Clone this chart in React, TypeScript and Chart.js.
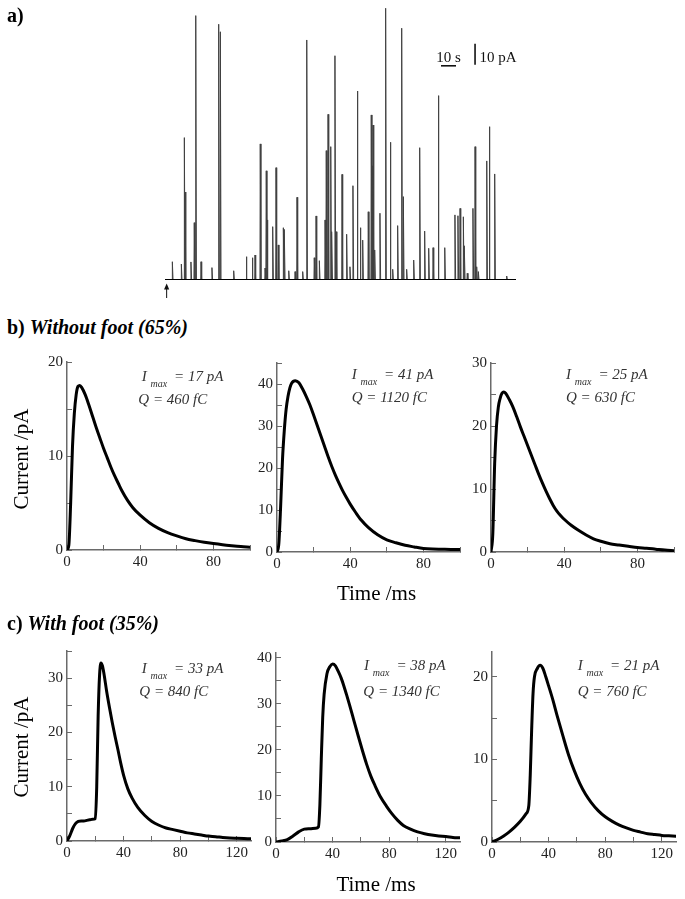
import React, { useEffect, useRef } from 'react';
import { Chart, registerables } from 'chart.js';

Chart.register(...registerables);

const SERIF = '"Liberation Serif", "Times New Roman", Times, serif';

// ---------- Panel a: amperometric trace ----------
const traceDurationS = 234;
const traceMaxPA = 130;
const stimulusTimeS = 1.1;
const scaleBarSeconds = 10;
const scaleBarPA = 10;
const spikeTimesS = [4.9, 10.9, 12.9, 13.4, 17.3, 19.5, 20.5, 24.0, 31.3, 35.8, 36.9, 45.8, 54.2, 58.2, 60.0, 63.5, 66.7, 67.5, 68.2, 71.8, 74.0, 75.5, 78.9, 79.6, 82.5, 86.7, 88.0, 91.8, 94.5, 99.5, 100.7, 102.9, 106.7, 107.5, 108.7, 110.5, 111.2, 113.3, 114.1, 118.0, 121.1, 123.3, 125.3, 128.2, 130.2, 131.8, 135.5, 137.5, 138.2, 138.7, 139.8, 143.3, 147.1, 150.2, 151.8, 155.1, 157.8, 158.9, 161.1, 165.8, 169.8, 173.1, 175.8, 178.7, 182.2, 186.5, 193.3, 195.3, 196.7, 198.9, 199.6, 201.5, 205.3, 206.7, 207.8, 208.9, 214.5, 216.2, 219.8, 227.8];
const spikeAmpsPA = [8.7, 7.6, 67.8, 41.9, 8.6, 27.3, 125.9, 8.7, 5.9, 121.8, 118.2, 4.4, 11.1, 10.6, 11.9, 64.8, 5.7, 52.0, 28.6, 25.4, 53.5, 16.7, 24.9, 24.1, 4.4, 4.0, 39.4, 4.0, 114.3, 10.6, 30.5, 9.2, 28.6, 61.6, 78.9, 63.5, 23.0, 106.8, 23.0, 50.3, 21.8, 6.3, 44.9, 90.0, 24.9, 19.0, 32.5, 78.6, 54.4, 73.8, 14.3, 31.8, 129.4, 65.6, 5.1, 25.9, 119.9, 39.7, 5.1, 9.5, 63.0, 23.3, 15.1, 15.4, 87.8, 15.4, 31.0, 30.6, 34.1, 30.1, 16.3, 3.2, 34.1, 63.5, 6.3, 4.0, 56.7, 73.0, 50.5, 1.9];

// ---------- Panel b: spikes without foot ----------
const b1TimeMs = [0, 1, 2, 3, 4, 5, 6, 7, 8, 10, 12, 14, 16, 18, 20, 22, 24, 26, 28, 30, 33, 36, 40, 45, 50, 55, 60, 65, 70, 75, 80, 85, 90, 95, 100];
const b1CurrentPA = [0, 0.5, 5, 11, 14.5, 16.5, 17.4, 17.5, 17.3, 16.5, 15.4, 14.2, 13.0, 11.9, 10.8, 9.8, 8.8, 7.9, 7.1, 6.3, 5.3, 4.5, 3.7, 2.9, 2.3, 1.85, 1.5, 1.2, 1.0, 0.82, 0.68, 0.56, 0.46, 0.37, 0.3];
const b2TimeMs = [0, 1, 2, 3, 4, 5, 6, 7, 8, 10, 12, 14, 16, 18, 20, 22, 24, 26, 28, 30, 32, 34, 36, 38, 40, 43, 46, 50, 55, 60, 65, 70, 75, 80, 85, 90, 95, 100];
const b2CurrentPA = [0, 2, 11, 22, 29, 34, 37, 39, 40.2, 40.8, 40.3, 38.8, 37, 35, 32.6, 30.1, 27.6, 25.1, 22.6, 20.3, 18.2, 16.3, 14.5, 12.9, 11.4, 9.4, 7.6, 5.8, 4.1, 2.9, 2.2, 1.6, 1.2, 0.85, 0.7, 0.65, 0.6, 0.6];
const b3TimeMs = [0, 1, 2, 3, 4, 5, 6, 7, 8, 10, 12, 14, 16, 18, 20, 22, 24, 26, 28, 30, 32, 34, 36, 38, 40, 44, 48, 52, 56, 60, 65, 70, 75, 80, 85, 90, 95, 100];
const b3CurrentPA = [0, 3, 14, 20, 23, 24.4, 25.2, 25.4, 25.2, 24.2, 23, 21.5, 19.9, 18.4, 16.9, 15.4, 13.9, 12.4, 11, 9.7, 8.5, 7.4, 6.5, 5.8, 5.2, 4.2, 3.4, 2.7, 2.1, 1.7, 1.3, 1.1, 0.9, 0.7, 0.6, 0.45, 0.3, 0.2];

// ---------- Panel c: spikes with foot ----------
const c1TimeMs = [0, 2, 4, 6, 8, 10, 12, 14, 16, 18, 20, 21, 22, 23, 24, 25, 26, 28, 30, 32, 34, 36, 38, 40, 43, 46, 50, 55, 60, 65, 70, 75, 80, 85, 90, 95, 100, 105, 110, 115, 120, 125, 130];
const c1CurrentPA = [0, 1, 2.3, 3.2, 3.6, 3.7, 3.7, 3.8, 3.9, 4.0, 4.1, 10, 23, 30.5, 32.8, 32.3, 31, 27.6, 24.6, 21.8, 19.2, 16.8, 14.3, 12.1, 9.6, 7.9, 6.2, 4.7, 3.6, 2.9, 2.4, 2.1, 1.8, 1.5, 1.3, 1.1, 0.9, 0.8, 0.65, 0.55, 0.5, 0.45, 0.4];
const c2TimeMs = [0, 4, 8, 12, 16, 20, 24, 28, 30, 31, 32, 33, 34, 36, 38, 40, 42, 44, 46, 48, 50, 52, 55, 58, 61, 64, 67, 70, 74, 78, 82, 86, 90, 95, 100, 105, 110, 115, 120, 125, 130];
const c2CurrentPA = [0, 0.2, 0.5, 1.3, 2.2, 2.8, 2.9, 3.0, 3.3, 8, 18, 27, 32, 36.5, 38, 38.6, 38.2, 37, 35.6, 33.8, 31.8, 29.7, 26.4, 23.1, 19.9, 16.9, 14.3, 12.2, 9.7, 7.8, 6.1, 4.7, 3.6, 2.8, 2.2, 1.8, 1.5, 1.3, 1.2, 1.0, 0.9];
const c3TimeMs = [0, 4, 8, 12, 16, 20, 24, 26, 27, 28, 29, 30, 32, 34, 36, 38, 40, 43, 46, 50, 54, 58, 62, 66, 70, 75, 80, 85, 90, 95, 100, 105, 110, 115, 120, 125, 130];
const c3CurrentPA = [0, 0.3, 0.7, 1.2, 1.8, 2.5, 3.4, 4.4, 8, 13.5, 18, 20, 21, 21.4, 21, 20.0, 18.9, 17.2, 15.3, 12.9, 10.6, 8.7, 7.1, 5.8, 4.8, 3.8, 3.05, 2.5, 2.05, 1.7, 1.4, 1.2, 1.0, 0.9, 0.8, 0.75, 0.7];

// annotation values (pA, fC)
const imaxPA = [17, 41, 25, 33, 38, 21];
const chargeFC = [460, 1120, 630, 840, 1340, 760];

// ---------- layout ----------
const AXIS_W = 40;
const AXIS_H = 28;
const PAD_T = 10;
const PAD_R = 16;

type TraceSpec = {
  left: number; top: number; width: number; height: number;
  xMax: number; yMax: number; xLabelStep: number; yLabelStep: number;
  times: number[]; values: number[];
};

const traceSpecs: TraceSpec[] = [
  { left: 66.7, top: 354, width: 182.5, height: 196, xMax: 100, yMax: 20, xLabelStep: 40, yLabelStep: 10, times: b1TimeMs, values: b1CurrentPA },
  { left: 277, top: 355, width: 182.5, height: 197, xMax: 100, yMax: 45, xLabelStep: 40, yLabelStep: 10, times: b2TimeMs, values: b2CurrentPA },
  { left: 491, top: 355, width: 182.5, height: 197, xMax: 100, yMax: 30, xLabelStep: 40, yLabelStep: 10, times: b3TimeMs, values: b3CurrentPA },
  { left: 66.7, top: 642.7, width: 184.3, height: 198, xMax: 130, yMax: 35, xLabelStep: 40, yLabelStep: 10, times: c1TimeMs, values: c1CurrentPA },
  { left: 276, top: 645, width: 184.3, height: 196.7, xMax: 130, yMax: 41, xLabelStep: 40, yLabelStep: 10, times: c2TimeMs, values: c2CurrentPA },
  { left: 492.3, top: 644, width: 183.8, height: 198.3, xMax: 130, yMax: 23, xLabelStep: 40, yLabelStep: 10, times: c3TimeMs, values: c3CurrentPA },
];

const annotationPos = [
  { ix: 141.7, iy: 381.6, qx: 138.3, qy: 405 },
  { ix: 351.7, iy: 379.2, qx: 351.7, qy: 403 },
  { ix: 566, iy: 379.2, qx: 566, qy: 403 },
  { ix: 141.7, iy: 673.2, qx: 139.3, qy: 696.6 },
  { ix: 364, iy: 670.6, qx: 363.3, qy: 696.6 },
  { ix: 577.7, iy: 670.6, qx: 577.7, qy: 696.6 },
];

const AXIS_COLOR = '#6a6a6a';

function traceConfig(s: TraceSpec): any {
  const tickFont = { family: SERIF, size: 15 };
  return {
    type: 'line',
    data: {
      datasets: [{
        data: s.times.map((t, i) => ({ x: t, y: s.values[i] })),
        borderColor: '#000',
        borderWidth: 3,
        pointRadius: 0,
        cubicInterpolationMode: 'monotone',
        fill: false,
        borderJoinStyle: 'round',
        borderCapStyle: 'round',
      }],
    },
    options: {
      animation: false,
      responsive: false,
      events: [],
      layout: { padding: { left: 0, top: PAD_T, right: PAD_R, bottom: 0 } },
      plugins: { legend: { display: false }, tooltip: { enabled: false } },
      scales: {
        x: {
          type: 'linear', min: 0, max: s.xMax,
          afterFit: (sc: any) => { sc.height = AXIS_H; },
          grid: { drawOnChartArea: false, tickLength: -5, color: AXIS_COLOR, lineWidth: 1 },
          border: { color: AXIS_COLOR, width: 1.5 },
          ticks: {
            stepSize: 20, includeBounds: false, autoSkip: false, maxRotation: 0,
            padding: 8.5, color: '#222', font: tickFont,
            callback: (v: number) => (v % s.xLabelStep === 0 ? String(v) : ''),
          },
        },
        y: {
          type: 'linear', min: 0, max: s.yMax,
          afterFit: (sc: any) => { sc.width = AXIS_W; },
          grid: { drawOnChartArea: false, tickLength: -5, color: AXIS_COLOR, lineWidth: 1 },
          border: { color: AXIS_COLOR, width: 1.5 },
          ticks: {
            stepSize: 5, includeBounds: false, autoSkip: false,
            padding: 9, color: '#222', font: tickFont,
            callback: (v: number) => (v % s.yLabelStep === 0 ? String(v) : ''),
          },
        },
      },
    },
  };
}

// scale bar positions (in data units of panel a)
const SB_H_T = 184;
const SB_H_Y = 102;
const SB_V_T = 206.7;
const SB_V_Y = 102.5;

const scaleBarPlugin = {
  id: 'scaleBar',
  afterDatasetsDraw(chart: any) {
    const { ctx, scales } = chart;
    const x = scales.x;
    const y = scales.y;
    ctx.save();
    ctx.strokeStyle = '#111';
    ctx.fillStyle = '#111';
    ctx.lineWidth = 1.6;
    const hx0 = x.getPixelForValue(SB_H_T);
    const hx1 = x.getPixelForValue(SB_H_T + scaleBarSeconds);
    const hy = y.getPixelForValue(SB_H_Y);
    ctx.beginPath(); ctx.moveTo(hx0, hy); ctx.lineTo(hx1, hy); ctx.stroke();
    ctx.font = `15px ${SERIF}`;
    ctx.textBaseline = 'alphabetic';
    ctx.textAlign = 'center';
    ctx.fillText(`${scaleBarSeconds} s`, (hx0 + hx1) / 2, hy - 4.2);
    const vx = x.getPixelForValue(SB_V_T);
    const vy0 = y.getPixelForValue(SB_V_Y);
    const vy1 = y.getPixelForValue(SB_V_Y + scaleBarPA);
    ctx.beginPath(); ctx.moveTo(vx, vy0); ctx.lineTo(vx, vy1); ctx.stroke();
    ctx.textAlign = 'left';
    ctx.fillText(`${scaleBarPA} pA`, vx + 4.5, hy - 4.2);
    // stimulus arrow
    const ax = x.getPixelForValue(stimulusTimeS);
    const ay = y.getPixelForValue(0);
    ctx.lineWidth = 1;
    ctx.beginPath(); ctx.moveTo(ax, ay + 6); ctx.lineTo(ax, ay + 18); ctx.stroke();
    ctx.beginPath(); ctx.moveTo(ax, ay + 3.5); ctx.lineTo(ax - 2.6, ay + 9.5); ctx.lineTo(ax + 2.6, ay + 9.5); ctx.closePath(); ctx.fill();
    ctx.restore();
  },
};

function traceAConfig(): any {
  const spikePoints: { x: number; y: number }[] = [];
  spikeTimesS.forEach((t, i) => {
    spikePoints.push({ x: t - 0.2, y: 0 });
    spikePoints.push({ x: t, y: spikeAmpsPA[i] });
    spikePoints.push({ x: t + 0.45, y: 0 });
  });
  return {
    type: 'line',
    data: {
      datasets: [
        { data: [{ x: 0, y: 0 }, { x: traceDurationS, y: 0 }], borderColor: '#000', borderWidth: 2, pointRadius: 0 },
        { data: spikePoints, borderColor: '#404040', borderWidth: 1, pointRadius: 0, tension: 0 },
      ],
    },
    options: {
      animation: false,
      responsive: false,
      events: [],
      layout: { padding: { left: 165, right: 685 - 516, top: 7, bottom: 20 } },
      plugins: { legend: { display: false }, tooltip: { enabled: false } },
      scales: {
        x: { type: 'linear', display: false, min: 0, max: traceDurationS },
        y: { type: 'linear', display: false, min: 0, max: traceMaxPA },
      },
    },
    plugins: [scaleBarPlugin],
  };
}

function Txt(props: { x: number; baseline: number; size: number; anchor?: 'left' | 'center'; style?: any; children: any }) {
  const { x, baseline, size, anchor = 'left', style, children } = props;
  return (
    <div
      style={{
        position: 'absolute',
        left: x,
        top: baseline - 0.8375 * size,
        fontSize: size,
        lineHeight: 1,
        whiteSpace: 'nowrap',
        fontFamily: SERIF,
        transform: anchor === 'center' ? 'translateX(-50%)' : undefined,
        ...style,
      }}
    >
      {children}
    </div>
  );
}

function VText(props: { cx: number; cy: number; size: number; children: any }) {
  return (
    <div
      style={{
        position: 'absolute',
        left: props.cx,
        top: props.cy,
        fontSize: props.size,
        lineHeight: 1,
        whiteSpace: 'nowrap',
        fontFamily: SERIF,
        transform: 'translate(-50%, -50%) rotate(-90deg)',
      }}
    >
      {props.children}
    </div>
  );
}

export default function App() {
  const aRef = useRef<HTMLCanvasElement | null>(null);
  const refs = useRef<(HTMLCanvasElement | null)[]>([]);

  useEffect(() => {
    const charts: Chart[] = [];
    if (aRef.current) charts.push(new Chart(aRef.current, traceAConfig()));
    traceSpecs.forEach((s, i) => {
      const c = refs.current[i];
      if (c) charts.push(new Chart(c, traceConfig(s)));
    });
    return () => charts.forEach((c) => c.destroy());
  }, []);

  return (
    <div style={{ position: 'absolute', left: 0, top: 0, width: 685, height: 899, background: '#fff', overflow: 'hidden', fontFamily: SERIF, color: '#000' }}>
      <canvas ref={aRef} width={685} height={300} style={{ position: 'absolute', left: 0, top: 0, width: 685, height: 300 }} />
      {traceSpecs.map((s, i) => {
        const w = Math.round(AXIS_W + s.width + PAD_R);
        const h = Math.round(PAD_T + s.height + AXIS_H);
        return (
          <canvas
            key={i}
            ref={(el) => { refs.current[i] = el; }}
            width={w}
            height={h}
            style={{ position: 'absolute', left: s.left - AXIS_W, top: s.top - PAD_T, width: w, height: h }}
          />
        );
      })}

      <Txt x={7} baseline={21.5} size={20} style={{ fontWeight: 'bold' }}>a)</Txt>
      <Txt x={7} baseline={334} size={20} style={{ fontWeight: 'bold' }}>
        b) <i>Without foot (65%)</i>
      </Txt>
      <Txt x={7} baseline={630} size={20} style={{ fontWeight: 'bold' }}>
        c) <i>With foot (35%)</i>
      </Txt>

      <VText cx={21} cy={459} size={21}>Current /pA</VText>
      <VText cx={21} cy={746.7} size={21}>Current /pA</VText>
      <Txt x={376.5} baseline={600.5} size={21} anchor="center">Time /ms</Txt>
      <Txt x={376} baseline={891.5} size={21} anchor="center">Time /ms</Txt>

      {annotationPos.map((p, i) => (
        <React.Fragment key={i}>
          <Txt x={p.ix} baseline={p.iy} size={15} style={{ fontStyle: 'italic', color: '#333' }}>
            I <span style={{ fontSize: 10, position: 'relative', top: 6 }}>max</span>
            <span style={{ marginLeft: 7 }}>= {imaxPA[i]} pA</span>
          </Txt>
          <Txt x={p.qx} baseline={p.qy} size={15} style={{ fontStyle: 'italic', color: '#333' }}>
            Q = {chargeFC[i]} fC
          </Txt>
        </React.Fragment>
      ))}
    </div>
  );
}
